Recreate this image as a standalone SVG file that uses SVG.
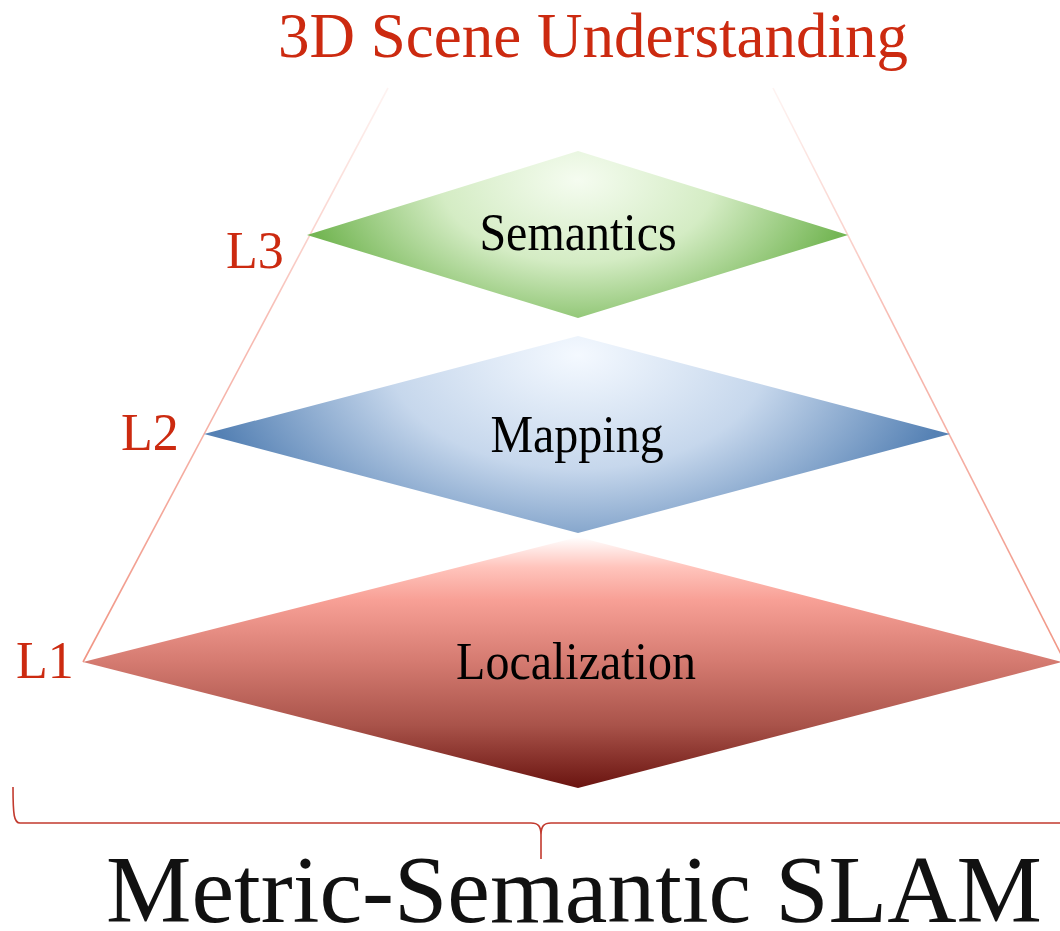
<svg xmlns="http://www.w3.org/2000/svg" width="1060" height="931" viewBox="0 0 1060 931">
  <style>
    .lbl { font-family: "Liberation Serif", "Times New Roman", serif; fill: #000; text-anchor: middle; font-size: 48px; }
    .lvl { font-family: "Liberation Serif", "Times New Roman", serif; fill: #cc2a10; font-size: 52px; }
    .edge { fill: none; stroke-width: 1.6; }
  </style>
  <defs>
    <radialGradient id="gSem" gradientUnits="userSpaceOnUse" cx="578" cy="180" r="275" gradientTransform="translate(578 180) scale(1 0.6) translate(-578 -180)">
      <stop offset="0" stop-color="#f5fcf0"/>
      <stop offset="0.5" stop-color="#d4ecc4"/>
      <stop offset="1" stop-color="#74b654"/>
    </radialGradient>
    <radialGradient id="gMap" gradientUnits="userSpaceOnUse" cx="578" cy="355" r="380" gradientTransform="translate(578 355) scale(1 0.6) translate(-578 -355)">
      <stop offset="0" stop-color="#f4f9ff"/>
      <stop offset="0.5" stop-color="#c6d7ec"/>
      <stop offset="1" stop-color="#5581b4"/>
    </radialGradient>
    <linearGradient id="gLoc" gradientUnits="userSpaceOnUse" x1="0" y1="537" x2="0" y2="788">
      <stop offset="0" stop-color="#ffffff"/>
      <stop offset="0.12" stop-color="#ffc4bc"/>
      <stop offset="0.25" stop-color="#f8a096"/>
      <stop offset="0.5" stop-color="#d47a70"/>
      <stop offset="0.75" stop-color="#a9534a"/>
      <stop offset="1" stop-color="#6a1410"/>
    </linearGradient>
    <linearGradient id="gLine" gradientUnits="userSpaceOnUse" x1="0" y1="88" x2="0" y2="662">
      <stop offset="0" stop-color="#f6b0a4" stop-opacity="0.15"/>
      <stop offset="0.4" stop-color="#f4a094" stop-opacity="0.7"/>
      <stop offset="1" stop-color="#f0907e" stop-opacity="0.95"/>
    </linearGradient>
  </defs>

  <!-- title -->
  <text x="593" y="57" font-family="Liberation Serif, Times New Roman, serif" font-size="63" fill="#cc2a10" text-anchor="middle">3D Scene Understanding</text>

  <!-- pyramid sides and bracket -->
  <g id="connectors">
    <line class="edge" x1="388" y1="88" x2="83" y2="662" stroke="url(#gLine)"/>
    <line class="edge" x1="773" y1="88" x2="1067" y2="666" stroke="url(#gLine)"/>
    <path class="edge" stroke="#c23a2e" stroke-width="1.5" d="M13,787 C13,815 14,823 20,823 L531,823 C538,823 541,826 541,835 L541,859 M541,835 C541,826 544,823 551,823 L1060,823"/>
  </g>

  <!-- level 1 -->
  <g id="localization">
    <polygon points="83,662 578,537 1062,662 578,788" fill="url(#gLoc)"/>
    <text class="lbl" transform="translate(576 679) scale(1 1.08)">Localization</text>
  </g>

  <!-- level 2 -->
  <g id="mapping">
    <polygon points="204,434 578,336 950,434 578,533" fill="url(#gMap)"/>
    <text class="lbl" transform="translate(577 452) scale(1 1.08)">Mapping</text>
  </g>

  <!-- level 3 -->
  <g id="semantics">
    <polygon points="307,235 578,151 848,235 578,318" fill="url(#gSem)"/>
    <text class="lbl" transform="translate(578 250) scale(1 1.08)">Semantics</text>
  </g>

  <!-- level markers -->
  <g id="levels">
    <text class="lvl" x="226" y="268">L3</text>
    <text class="lvl" x="121" y="450">L2</text>
    <text class="lvl" x="16" y="678">L1</text>
  </g>

  <!-- caption -->
  <text x="574" y="922" font-family="Liberation Serif, Times New Roman, serif" font-size="96" fill="#111" text-anchor="middle">Metric-Semantic SLAM</text>
</svg>
